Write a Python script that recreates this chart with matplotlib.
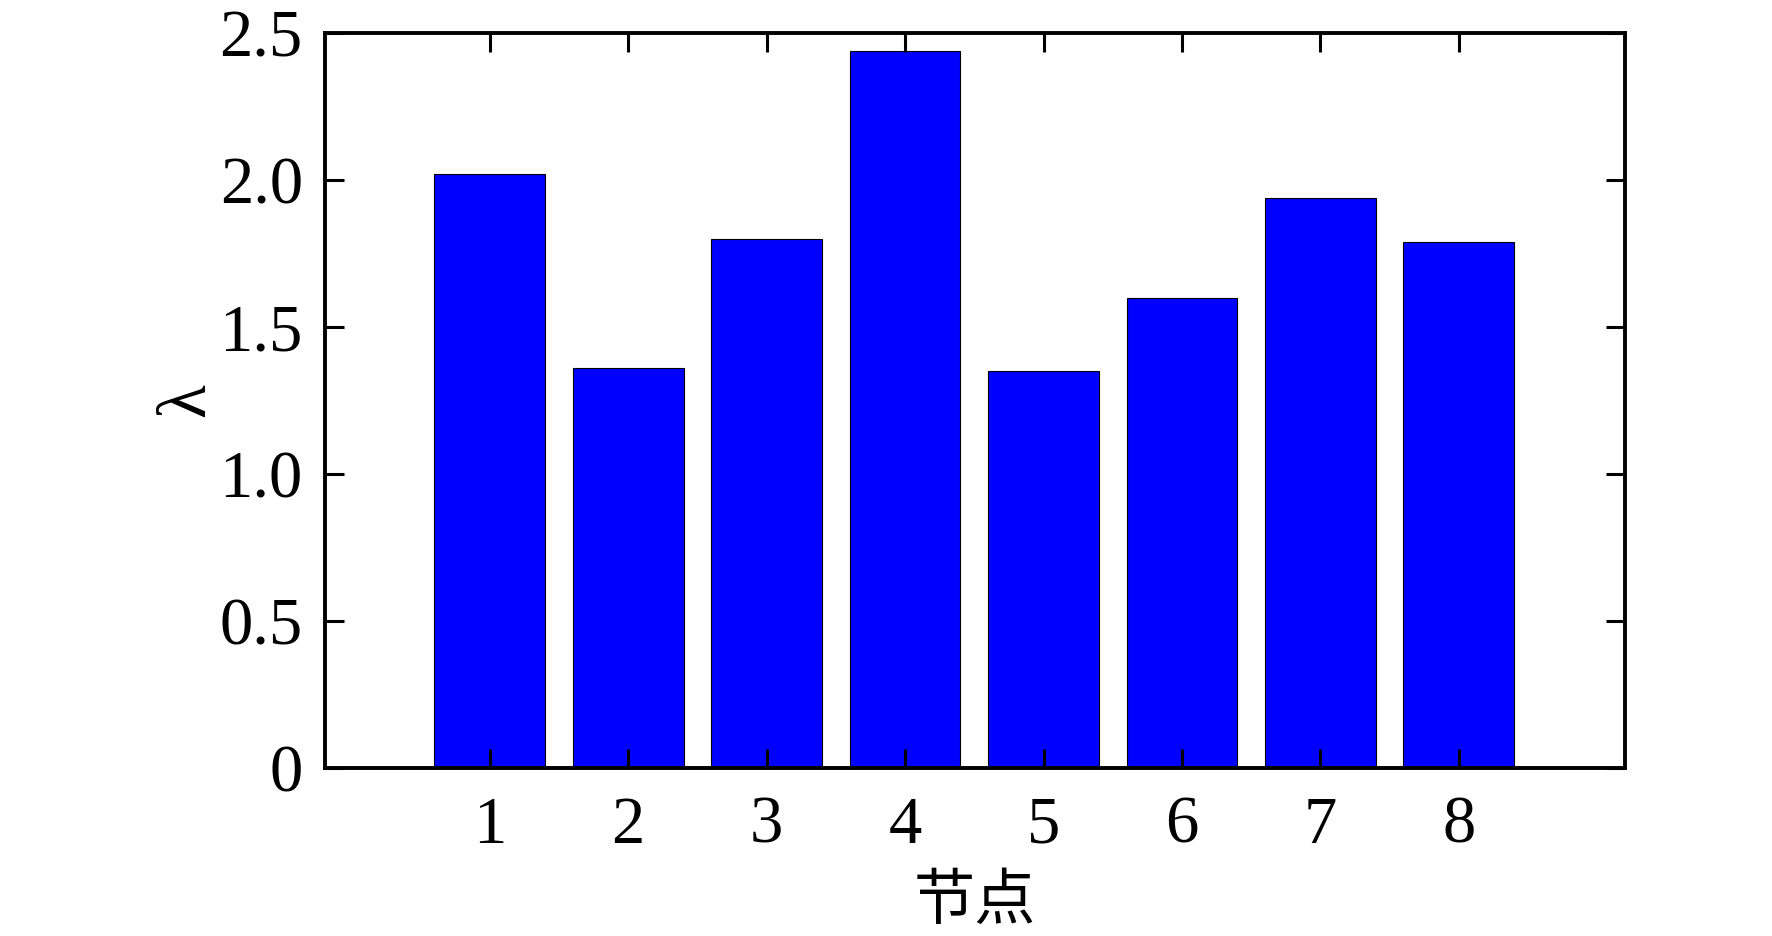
import matplotlib
matplotlib.use("Agg")
import matplotlib.pyplot as plt

nodes = ["1", "2", "3", "4", "5", "6", "7", "8"]
lam = [2.02, 1.36, 1.80, 2.44, 1.35, 1.60, 1.94, 1.79]
yticks = [0, 0.5, 1.0, 1.5, 2.0, 2.5]
ytick_labels = ["0", "0.5", "1.0", "1.5", "2.0", "2.5"]

plt.rcParams['font.family'] = ['Liberation Serif', 'Noto Sans CJK SC']

fig = plt.figure(figsize=(17.72, 9.36), dpi=100)
ax = fig.add_axes([325/1772, 1-768/936, 1300/1772, 735/936])

x = list(range(1, len(nodes)+1))
ax.bar(x, lam, width=0.8, color='#0000FF', edgecolor='black', linewidth=0.8)

ax.set_xlim(-0.19, 9.2)
ax.set_ylim(0, 2.5)
ax.set_xticks(x)
ax.set_xticklabels(nodes)
ax.set_yticks(yticks)
ax.set_yticklabels(ytick_labels)

for s in ax.spines.values():
    s.set_linewidth(2.8)
ax.tick_params(direction='in', length=14, width=2.2, labelsize=48,
               top=True, right=True)
ax.tick_params(axis='x', pad=20)
ax.tick_params(axis='y', pad=16)

ax.set_xlabel("节点", fontsize=44, family=['Noto Sans CJK SC'], labelpad=10)
ax.set_ylabel("λ", fontsize=50, labelpad=0)

fig.savefig("out.png", dpi=100)
